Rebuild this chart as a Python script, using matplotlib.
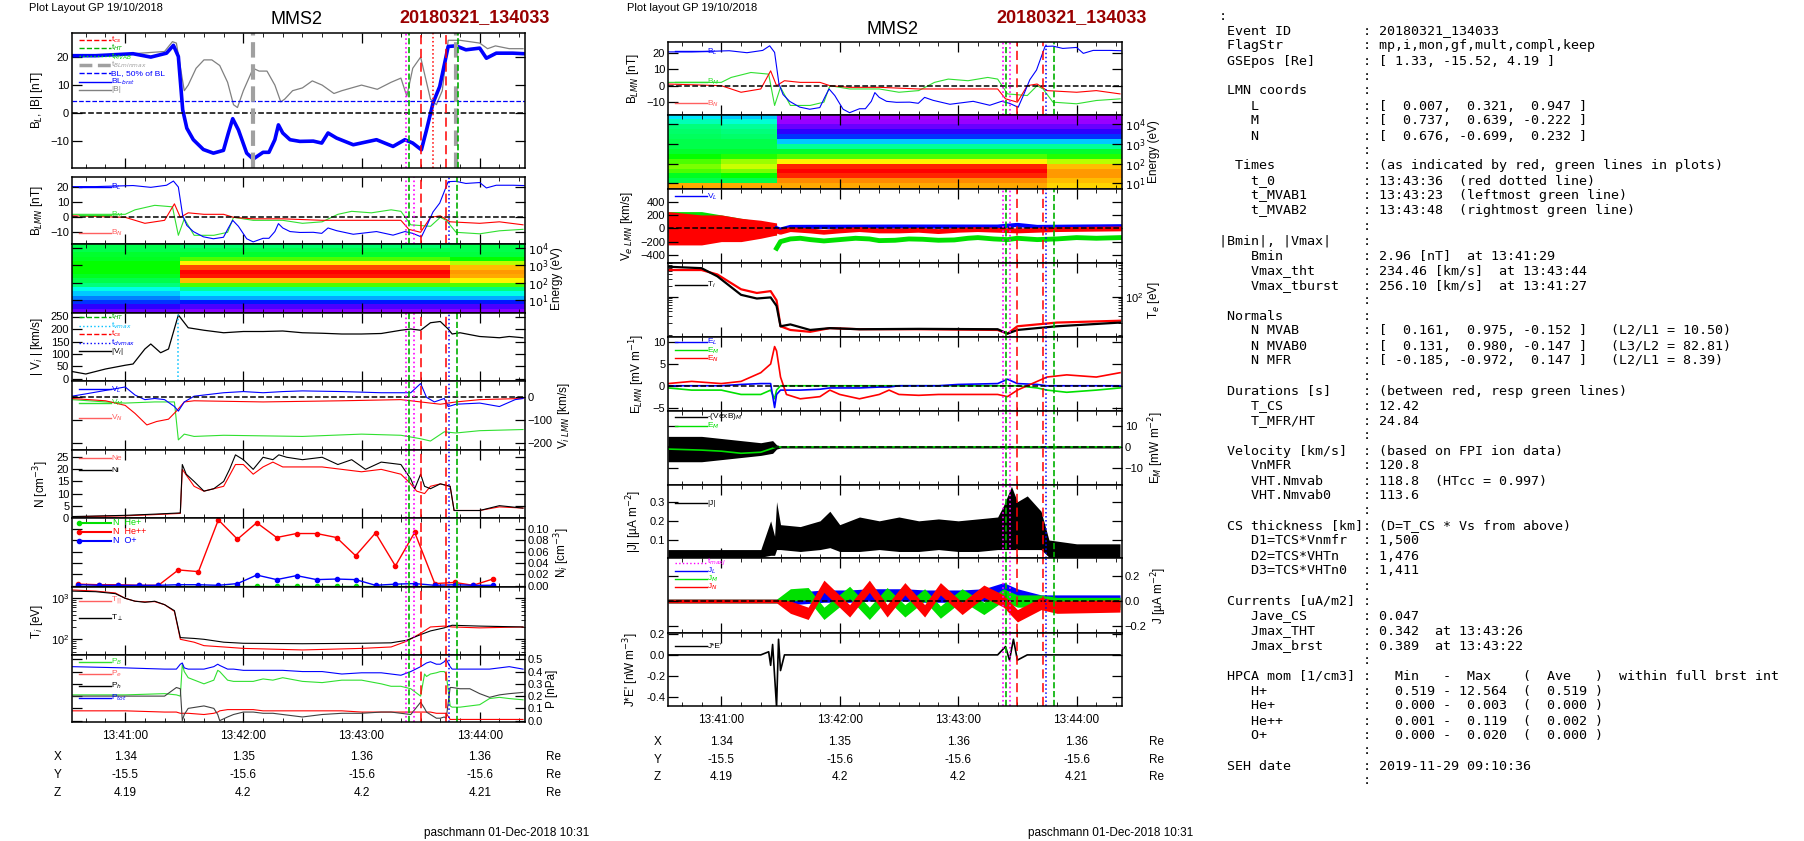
import numpy as np
import matplotlib
matplotlib.use("Agg")
import matplotlib.pyplot as plt
from matplotlib.colors import LinearSegmentedColormap
from matplotlib.transforms import blended_transform_factory

plt.rcParams["font.family"] = ["Liberation Sans", "DejaVu Sans"]
plt.rcParams["font.size"] = 8

W, H = 1804, 841
T0, T1 = 33, 263  # seconds after 13:40:00

# ---------------- data (seconds after 13:40:00) ----------------
bl_t = [33, 45, 64, 73, 81, 84.5, 87, 89.2, 91.3, 94.6, 99.7, 104.8, 109.9, 112.4, 114.6, 117.5, 121.7, 125,
        130, 133, 136, 137.8, 140, 143.7, 148.7, 155.5, 159.8, 163, 167.3, 175.8, 187.6, 196, 202, 206, 210.4,
        213, 216.3, 219.7, 224, 228, 233, 240, 243.4, 248.4, 256.8, 262.6]
bl_v = [20.5, 20.5, 21.2, 20, 21.4, 24.2, 20.2, 1.2, -5.4, -9.5, -13, -14.3, -13.3, -7.1, -2, -6, -14.3, -16.4,
        -14, -14, -9.5, -4.2, -7.1, -9.5, -10.1, -10, -10.7, -7.1, -8.9, -11.3, -9.5, -11.9, -9.5, -10.7, -13.1,
        -6, 3.6, 9.5, 23.8, 24, 22.6, 23.2, 19.6, 21.4, 21.4, 21.2]
bmag_t = [33, 60, 80, 84, 86, 90, 92, 96, 100, 104, 108, 112, 115, 117, 120, 125, 128, 132, 136, 139, 141, 145,
          150, 155, 160, 166, 170, 180, 188, 195, 200, 203, 206, 210, 212, 215, 218, 221, 224, 230, 240, 244,
          248, 255, 262]
bmag_v = [20.5, 21, 22, 25.5, 25, 8, 10, 16, 19, 19, 17, 11, 3, 2, 8, 16, 15, 15, 10, 4, 5, 8, 9, 11.5, 10, 7,
          8, 10, 8.5, 11, 12.5, 6, 16, 20, 14, 5, 3, 8, 26, 26, 25, 23, 24, 23, 23]
bm_t = [33, 60, 65, 75, 84, 87, 90, 95, 105, 112, 115, 125, 140, 150, 160, 168, 175, 185, 195, 200, 205, 215,
        220, 223, 228, 240, 250, 262]
bm_v = [2, 2, 5, 8, 7, -12, -1, -12, -12, -10, 0, -2, -2, -4, -3, 2, 4, 3, 5, 4, -5, -6, 0, -2, -10, -11, -9, -8]
bn_t = [33, 60, 70, 80, 85, 88, 92, 100, 110, 115, 125, 140, 160, 190, 200, 204, 210, 215, 220, 225, 240, 250, 262]
bn_v = [1, 0, -4, -2, 9, 0, 3, 2, 2, 0, -1, -1, -2, -2, -2, -8, -10, 0, 1, -3, -4, -3, -5]

vmag_t = [33, 40, 50, 60, 64, 70, 73, 78, 82, 87, 92, 100, 110, 120, 130, 140, 150, 160, 170, 180, 190, 200,
          205, 210, 215, 220, 224, 226, 230, 240, 250, 255, 262]
vmag_v = [30, 20, 40, 55, 60, 120, 140, 105, 120, 256, 205, 195, 185, 190, 190, 192, 185, 183, 180, 180, 182,
          195, 200, 195, 225, 230, 200, 180, 185, 170, 165, 170, 165]
vil_t = [33, 40, 50, 60, 65, 70, 75, 80, 85, 87, 90, 95, 100, 110, 120, 130, 140, 150, 170, 190, 205, 210, 213,
         217, 222, 224, 228, 240, 250, 258, 262]
vil_v = [5, 15, 30, 45, 10, -10, -5, -10, -40, -60, -20, 5, 10, 20, 25, 20, 25, 28, 25, 20, 20, 60, 0, -20, -5,
         -40, -30, -25, -40, -10, -5]
vim_t = [33, 50, 60, 75, 85, 87, 90, 95, 110, 150, 180, 200, 210, 215, 222, 228, 240, 262]
vim_v = [-10, -20, -25, -20, -20, -185, -160, -170, -165, -170, -160, -165, -180, -190, -150, -155, -145, -140]
vin_t = [33, 50, 60, 65, 71, 76, 82, 86, 90, 95, 130, 170, 200, 210, 220, 228, 240, 262]
vin_v = [-5, -15, -35, -70, -120, -105, -95, -60, -20, -15, -20, -15, -10, -20, -30, -20, -10, -5]

ni_t = [33, 60, 75, 88, 89, 91, 95, 100, 105, 110, 113, 116, 120, 125, 130, 135, 138, 142, 150, 160, 168, 175,
        182, 190, 200, 205, 207, 210, 212, 215, 220, 225, 227, 240, 250, 262]
ni_v = [0.5, 1, 1.5, 2, 22, 18, 15, 11, 12, 15, 20, 26, 24, 20, 25, 24, 26, 25, 24, 25, 22, 24, 20, 23, 22, 16,
        12, 18, 13, 12, 14, 13, 3, 3, 5, 4]
ne_t = [33, 60, 75, 88, 89, 95, 100, 110, 116, 120, 125, 130, 135, 140, 150, 160, 170, 180, 190, 200, 205, 208,
        212, 215, 220, 225, 227, 240, 250, 262]
ne_v = [0.4, 0.8, 1.3, 1.8, 20, 13, 11, 13, 22, 22, 18, 21, 23, 21, 21, 21, 20, 19, 20, 18, 14, 11, 10, 13, 14,
        13, 3, 3, 4.5, 4]

hp_t = [36.3, 46.5, 56.6, 66.8, 76.9, 87, 97.2, 107.3, 117, 126.8, 136.9, 147, 157.2, 167.3, 177, 187.1, 197.2,
        207, 217.2, 227.3, 236.6, 246.7]
hepp = [0.003, 0.002, 0.002, 0.001, 0.001, 0.028, 0.025, 0.116, 0.082, 0.111, 0.085, 0.092, 0.092, 0.085, 0.053,
        0.093, 0.035, 0.094, 0.004, 0.006, 0.001, 0.012]
oplus = [0.002, 0.001, 0.001, 0.001, 0.001, 0.002, 0.002, 0.001, 0.004, 0.019, 0.011, 0.018, 0.011, 0.012, 0.011,
         0.001, 0.003, 0.004, 0.001, 0.002, 0.001, 0.001]
heplus = [0.0005] * 22

ti_t = [33, 45, 55, 60, 65, 70, 75, 80, 85, 88, 95, 100, 110, 120, 150, 180, 195, 203, 210, 215, 222, 226, 240, 262]
tperp = [1500, 1450, 1300, 1000, 850, 800, 850, 700, 500, 110, 105, 100, 85, 80, 78, 80, 82, 95, 130, 160, 190,
         220, 210, 200]
tpar = [1600, 1500, 1350, 1000, 850, 820, 830, 700, 480, 100, 85, 70, 65, 60, 55, 60, 65, 90, 140, 200, 210,
        200, 190, 200]

p_t = [33, 60, 80, 86, 88, 89, 90, 92, 100, 105, 107, 108, 112, 115, 120, 125, 130, 135, 140, 150, 160, 170, 180,
       190, 195, 200, 205, 210, 212, 213, 215, 218, 220, 222, 223, 225, 226, 230, 235, 240, 245, 250, 255, 262]
ptot = [0.44, 0.43, 0.42, 0.42, 0.46, 0.47, 0.43, 0.42, 0.42, 0.44, 0.46, 0.45, 0.42, 0.42, 0.41, 0.41, 0.41,
        0.41, 0.41, 0.4, 0.4, 0.38, 0.39, 0.39, 0.38, 0.37, 0.4, 0.44, 0.46, 0.47, 0.48, 0.46, 0.46, 0.48, 0.5,
        0.44, 0.42, 0.42, 0.42, 0.42, 0.42, 0.43, 0.44, 0.42]
pb = [0.21, 0.21, 0.22, 0.21, 0.2, 0.46, 0.4, 0.35, 0.3, 0.33, 0.41, 0.4, 0.33, 0.32, 0.32, 0.32, 0.34, 0.33,
      0.35, 0.32, 0.31, 0.33, 0.33, 0.3, 0.28, 0.28, 0.26, 0.2, 0.38, 0.36, 0.38, 0.39, 0.4, 0.4, 0.38, 0.12,
      0.11, 0.11, 0.12, 0.13, 0.18, 0.19, 0.18, 0.17]
ph = [0.2, 0.2, 0.2, 0.27, 0.26, 0.0, 0.05, 0.1, 0.12, 0.1, 0.05, 0.0, 0.03, 0.05, 0.07, 0.07, 0.06, 0.06, 0.05,
      0.03, 0.05, 0.06, 0.06, 0.07, 0.07, 0.06, 0.05, 0.15, 0.1, 0.07, 0.05, 0.02, 0.02, 0.03, 0.02, 0.27, 0.27,
      0.26, 0.26, 0.22, 0.19, 0.21, 0.22, 0.23]
pe = [0.08, 0.08, 0.07, 0.07, 0.06, 0.06, 0.06, 0.06, 0.05, 0.06, 0.07, 0.08, 0.09, 0.09, 0.09, 0.09, 0.08, 0.08,
      0.08, 0.08, 0.08, 0.08, 0.07, 0.07, 0.07, 0.07, 0.07, 0.07, 0.07, 0.07, 0.07, 0.06, 0.06, 0.06, 0.06, 0.01,
      0.01, 0.01, 0.01, 0.01, 0.01, 0.01, 0.01, 0.01]

# spectrograms: log10 energy row centres, segment edges in time, intensity 0..1
ion_logE = [0.375, 0.625, 0.875, 1.125, 1.375, 1.625, 1.875, 2.125, 2.375, 2.625, 2.875, 3.125, 3.375, 3.625,
            3.875, 4.125]
ion_tedges = [33, 88, 225, 263]
ion_A = [0.1, 0.14, 0.2, 0.25, 0.3, 0.35, 0.42, 0.45, 0.48, 0.5, 0.5, 0.5, 0.48, 0.47, 0.45, 0.45]
ion_B = [0.08, 0.12, 0.18, 0.28, 0.33, 0.4, 0.55, 0.75, 0.97, 1.0, 0.9, 0.68, 0.55, 0.47, 0.45, 0.43]
ion_C = [0.08, 0.12, 0.18, 0.28, 0.35, 0.42, 0.55, 0.68, 0.78, 0.8, 0.75, 0.62, 0.5, 0.46, 0.45, 0.45]
ele_logE = [0.875, 1.125, 1.375, 1.625, 1.875, 2.125, 2.375, 2.625, 2.875, 3.125, 3.375, 3.625, 3.875, 4.125, 4.375]
ele_tedges = [33, 60, 88, 225, 263]
ele_A1 = [0.78, 0.45, 0.48, 0.55, 0.58, 0.55, 0.5, 0.47, 0.45, 0.45, 0.44, 0.43, 0.42, 0.38, 0.32]
ele_A2 = [0.78, 0.45, 0.5, 0.58, 0.63, 0.6, 0.52, 0.47, 0.45, 0.45, 0.43, 0.42, 0.4, 0.36, 0.3]
ele_B = [0.78, 0.82, 0.95, 1.0, 0.95, 0.68, 0.55, 0.47, 0.4, 0.3, 0.2, 0.14, 0.1, 0.07, 0.06]
ele_C = [0.72, 0.75, 0.8, 0.8, 0.75, 0.62, 0.52, 0.47, 0.4, 0.3, 0.2, 0.14, 0.1, 0.07, 0.06]

# electron velocity (centre lines + noise envelopes)
ve_pre_t = [33, 50, 60, 70, 80, 88]
ven_lo = [-250, -250, -200, -200, -150, -100]
ven_hi = [250, 200, 200, 150, 120, 80]
vem_lo = [-150, -150, -120, -100, -100, -100]
vem_hi = [250, 250, 200, 150, 100, 50]
vel_lo = [-60, -50, -40, -40, -40, -60]
vel_hi = [60, 60, 50, 50, 80, 60]
vem_t = [88, 90, 95, 100, 105, 112, 120, 128, 135, 140, 148, 155, 162, 170, 178, 185, 190, 198, 205, 210, 220,
         230, 240, 250, 262]
vem_v = [-300, -200, -160, -150, -170, -190, -170, -150, -160, -185, -180, -160, -165, -180, -175, -150, -140,
         -160, -170, -150, -170, -160, -140, -150, -140]
ven_t = [88, 90, 95, 105, 112, 120, 130, 140, 150, 160, 170, 180, 190, 200, 210, 220, 230, 262]
ven_v = [-40, -60, -20, -40, -60, -40, -20, -40, -40, -30, -50, -30, -20, -30, -40, -30, -20, -10]
vel_t = [88, 90, 95, 150, 200, 210, 220, 262]
vel_v = [0, -20, 20, 25, 25, 50, 20, 30]

te_t = [33, 50, 58, 64, 70, 78, 85, 88, 90, 95, 105, 115, 130, 160, 200, 205, 210, 230, 262]
te_blk = [2.81, 2.77, 2.55, 2.3, 2.05, 1.95, 1.98, 1.75, 1.2, 1.25, 1.1, 1.15, 1.12, 1.13, 1.12, 1.0, 1.1, 1.2, 1.3]
te_red = [2.72, 2.72, 2.6, 2.4, 2.2, 2.1, 2.15, 1.9, 1.2, 1.1, 1.05, 1.15, 1.12, 1.12, 1.1, 1.0, 1.2, 1.3, 1.35]

e_t = [33, 45, 60, 70, 80, 85, 87, 88, 90, 93, 100, 110, 115, 120, 130, 140, 145, 150, 160, 170, 180, 200, 205,
       210, 220, 225, 235, 250, 262]
en_v = [0.5, 1, 0.5, 1, 3, 5, 9, 8, 2, -2, -3, -2.5, -1, -2, -3, -2, -1, -2, -2.2, -2, -2, -2, -2.5, -1, 1, 2,
        2.5, 2, 3]
el_v = [0, 0, 0, 0.3, 0.5, 0.5, -5, -2, -1, -1, -1, -0.8, -0.5, -0.5, -0.5, -0.3, -0.3, 0, 0, 0, 0.3, 0.5, 1.5,
        0.5, 0.3, 0, 0, 0, 0]
em_v = [-0.5, -1, -1, -2, -2, -1, -3, -1, 0, 0, 0, 0, 0, 0, 0, 0, 0, 0, 0, 0, 0, 0, 0, 0, -0.5, -1, -1.5, -1,
        -0.5]

vxb_t = [33, 50, 60, 70, 80, 86, 88, 90, 262]
vxb_lo = [-7, -7, -6, -5, -4, -3, -1, -0.5, -0.5]
vxb_hi = [5, 5, 4, 3, 2, 3, 1, 0.5, 0.5]
emg_t = [33, 50, 60, 70, 80, 88, 90, 262]
emg_v = [-1, -1.5, -2, -3, -2.5, 0, 0, 0]

jm_t = [33, 80, 85, 87, 88, 90, 100, 110, 115, 120, 130, 140, 150, 160, 170, 180, 190, 200, 203, 207, 210, 215,
        222, 226, 240, 262]
jm_lo = [0.01, 0.01, 0.02, 0.02, 0.05, 0.05, 0.04, 0.05, 0.06, 0.04, 0.04, 0.05, 0.04, 0.04, 0.05, 0.04, 0.04,
         0.05, 0.05, 0.05, 0.05, 0.05, 0.05, 0.01, 0.01, 0.01]
jm_hi = [0.05, 0.05, 0.2, 0.12, 0.3, 0.18, 0.17, 0.2, 0.25, 0.18, 0.22, 0.2, 0.22, 0.2, 0.21, 0.2, 0.21, 0.22,
         0.28, 0.38, 0.3, 0.33, 0.25, 0.1, 0.08, 0.08]

jc_t = [33, 88, 95, 104, 112, 125, 135, 144, 153, 163, 171, 182, 193, 203, 210, 222, 230, 262]
jr_v = [0, 0, -0.05, -0.1, 0.12, -0.08, 0.12, -0.08, 0.1, -0.08, 0.1, -0.06, 0.08, 0.0, -0.12, -0.02, -0.05, -0.04]
jg_v = [0, 0, 0.05, 0.06, -0.1, 0.07, -0.1, 0.06, -0.08, 0.05, -0.09, 0.05, -0.06, 0.05, 0.0, 0.0, -0.02, -0.02]
jb_v = [0, 0, 0.02, 0.03, 0.04, 0.04, 0.05, 0.05, 0.05, 0.04, 0.04, 0.04, 0.05, 0.1, 0.05, 0.0, 0.0, 0.0]

je_t = [33, 80, 84, 85, 86, 87, 88, 89, 90, 92, 100, 200, 204, 206, 208, 210, 215, 262]
je_v = [0, 0, 0.03, -0.1, 0.1, -0.2, -0.5, 0.15, -0.15, 0.0, 0.0, 0.0, 0.08, -0.05, 0.15, -0.05, 0, 0]

xlabels = ["13:41:00", "13:42:00", "13:43:00", "13:44:00"]
xticks = [60, 120, 180, 240]
posX = ["1.34", "1.35", "1.36", "1.36"]
posY = ["-15.5", "-15.6", "-15.6", "-15.6"]
posZ = ["4.19", "4.2", "4.2", "4.21"]

info_rows = [
    (":", None), (" Event ID", "20180321_134033"), (" FlagStr", "mp,i,mon,gf,mult,compl,keep"),
    (" GSEpos [Re]", "[ 1.33, -15.52, 4.19 ]"), ("", ""), (" LMN coords", ""),
    ("    L", "[  0.007,  0.321,  0.947 ]"), ("    M", "[  0.737,  0.639, -0.222 ]"),
    ("    N", "[  0.676, -0.699,  0.232 ]"), ("", ""),
    ("  Times", "(as indicated by red, green lines in plots)"), ("    t_0", "13:43:36  (red dotted line)"),
    ("    t_MVAB1", "13:43:23  (leftmost green line)"), ("    t_MVAB2", "13:43:48  (rightmost green line)"),
    ("", ""), ("|Bmin|, |Vmax|", ""), ("    Bmin", "2.96 [nT]  at 13:41:29"),
    ("    Vmax_tht", "234.46 [km/s]  at 13:43:44"), ("    Vmax_tburst", "256.10 [km/s]  at 13:41:27"),
    ("", ""), (" Normals", ""),
    ("    N MVAB", "[  0.161,  0.975, -0.152 ]   (L2/L1 = 10.50)"),
    ("    N MVAB0", "[  0.131,  0.980, -0.147 ]   (L3/L2 = 82.81)"),
    ("    N MFR", "[ -0.185, -0.972,  0.147 ]   (L2/L1 = 8.39)"), ("", ""),
    (" Durations [s]", "(between red, resp green lines)"), ("    T_CS", "12.42"), ("    T_MFR/HT", "24.84"),
    ("", ""), (" Velocity [km/s]", "(based on FPI ion data)"), ("    VnMFR", "120.8"),
    ("    VHT.Nmvab", "118.8  (HTcc = 0.997)"), ("    VHT.Nmvab0", "113.6"), ("", ""),
    (" CS thickness [km]", "(D=T_CS * Vs from above)"), ("    D1=TCS*Vnmfr", "1,500"),
    ("    D2=TCS*VHTn", "1,476"), ("    D3=TCS*VHTn0", "1,411"), ("", ""), (" Currents [uA/m2]", ""),
    ("    Jave_CS", "0.047"), ("    Jmax_THT", "0.342  at 13:43:26"), ("    Jmax_brst", "0.389  at 13:43:22"),
    ("", ""), (" HPCA mom [1/cm3]", "  Min   -  Max    (  Ave   )  within full brst int"),
    ("    H+", "  0.519 - 12.564  (  0.519 )"), ("    He+", "  0.000 -  0.003  (  0.000 )"),
    ("    He++", "  0.001 -  0.119  (  0.002 )"), ("    O+", "  0.000 -  0.020  (  0.000 )"),
    ("", ""), (" SEH date", "2019-11-29 09:10:36"), ("", ""),
]

# ---------------- helpers ----------------
fig = plt.figure(figsize=(W / 100, H / 100), dpi=100)
cmap = LinearSegmentedColormap.from_list(
    "spec", ["#ff00ff", "#0000ff", "#00ffff", "#00ff00", "#ffff00", "#ff8000", "#ff0000"])


def axp(x0, y0, x1, y1):
    ax = fig.add_axes([x0 / W, 1 - y1 / H, (x1 - x0) / W, (y1 - y0) / H])
    ax.set_xlim(T0, T1)
    ax.set_xticks(xticks)
    ax.set_xticks(np.arange(40, 263, 10), minor=True)
    ax.set_xticklabels([])
    ax.tick_params(which="both", direction="in", top=True, right=True, labelsize=8, pad=2)
    ax.tick_params(which="major", length=7, width=0.9)
    ax.tick_params(which="minor", length=3)
    for s in ax.spines.values():
        s.set_linewidth(1.1)
    return ax


def right_axis(ax, label):
    ax.yaxis.tick_right()
    ax.tick_params(which="both", left=True, right=True, labelleft=False, labelright=True)
    ax.yaxis.set_label_position("right")
    ax.set_ylabel(label, fontsize=8.5, labelpad=2)


def tag(ax, y, label, color, ls="-", lw=1.0, x=0.015, fs=6):
    ax.plot([x, x + 0.07], [y, y], transform=ax.transAxes, color=color, ls=ls, lw=lw, clip_on=False)
    ax.text(x + 0.072, y, label, transform=ax.transAxes, color=color, fontsize=fs, va="center")


def events(ax, full=True):
    ax.axvline(202.5, color="#ff00ff", ls=":", lw=1.2)
    ax.axvline(204, color="#00b000", ls="--", lw=1.2)
    ax.axvline(210, color="red", ls=(0, (6, 3)), lw=1.1)
    ax.axvline(223, color="red", ls=(0, (6, 3)), lw=1.1)
    ax.axvline(228.5, color="#00b000", ls="--", lw=1.2)
    if full:
        ax.axvline(206.5, color="#ff00ff", ls=":", lw=1.2)
        ax.axvline(224.5, color="blue", ls=":", lw=1.1)


def spectro(ax, logE, tedges, cols, elim):
    z = np.array(cols).T
    step = logE[1] - logE[0]
    eedges = np.append(np.array(logE) - step / 2, logE[-1] + step / 2)
    ax.pcolormesh(tedges, eedges, z, cmap=cmap, vmin=0, vmax=1, shading="flat")
    ax.set_ylim(*elim)
    ax.set_yticks([1, 2, 3, 4])
    ax.set_yticklabels(["$10^{1}$", "$10^{2}$", "$10^{3}$", "$10^{4}$"])
    ax.yaxis.set_minor_locator(plt.NullLocator())
    right_axis(ax, "Energy (eV)")


def pos_table(ax, ys, xlab, xre):
    tr = blended_transform_factory(ax.transData, fig.transFigure)
    for name, vals, y in zip(["X", "Y", "Z"], [posX, posY, posZ], ys):
        fig.text(xlab / W, 1 - y / H, name, fontsize=8.5, va="center")
        for t, v in zip(xticks, vals):
            ax.text(t, 1 - y / H, v, transform=tr, fontsize=8.5, ha="center", va="center")
        fig.text(xre / W, 1 - y / H, "Re", fontsize=8.5, va="center")


# ---------------- left column ----------------
a1 = axp(72, 33, 525, 168)
a1.plot(bmag_t, bmag_v, color="gray", lw=0.9)
a1.plot(bl_t, bl_v, color="#4060ff", lw=0.8)
a1.plot(bl_t, bl_v, color="blue", lw=2.6)
a1.axhline(0, color="k", ls="--", lw=1.1)
a1.axhline(4.3, color="blue", ls="--", lw=0.9)
for t in [125, 228]:
    a1.axvline(t, color="#a0a0a0", ls="--", lw=3)
a1.axvline(202.5, color="#ff00ff", ls=":", lw=1.2)
a1.axvline(204, color="#00b000", ls="--", lw=1.2)
a1.axvline(210, color="red", ls=(0, (6, 3)), lw=1.1)
a1.axvline(216.5, color="red", ls=":", lw=1.1)
a1.axvline(223, color="red", ls=(0, (6, 3)), lw=1.1)
a1.axvline(229, color="#00b000", ls="--", lw=1.2)
a1.set_ylim(-19.6, 28.6)
a1.set_yticks([-10, 0, 10, 20])
a1.set_ylabel("B$_L$, |B| [nT]", fontsize=8.5)
for i, (lab, c, ls, lw) in enumerate([("t$_{cs}$", "red", "--", 1), ("t$_{HT}$", "#00b000", "--", 1),
                                      ("t$_{MVAB}$", "#00e000", ":", 1), ("t$_{BLminmax}$", "#a0a0a0", "--", 2.5),
                                      ("BL, 50% of BL", "blue", "--", 1), ("BL$_{brst}$", "blue", "-", 1),
                                      ("|B|", "gray", "-", 1)]):
    tag(a1, 0.95 - 0.062 * i, lab, c, ls, lw)

a2 = axp(72, 177, 525, 244)
a2.plot(bm_t, bm_v, color="#30e030", lw=0.8)
a2.plot(bn_t, bn_v, color="red", lw=0.8)
a2.plot(bl_t, bl_v, color="blue", lw=0.8)
a2.axhline(0, color="k", ls="--", lw=1.1)
events(a2)
a2.set_ylim(-17.8, 26.9)
a2.set_yticks([-10, 0, 10, 20])
a2.set_ylabel("B$_{LMN}$ [nT]", fontsize=8.5)
tag(a2, 0.85, "B$_L$", "blue")
tag(a2, 0.44, "B$_M$", "#30e030")
tag(a2, 0.17, "B$_N$", "#ff6060")

a3 = axp(72, 244, 525, 313)
spectro(a3, ion_logE, ion_tedges, [ion_A, ion_B, ion_C], (0.25, 4.23))

a4 = axp(72, 313, 525, 381)
a4.plot(vmag_t, vmag_v, color="k", lw=0.9)
events(a4)
a4.axvline(87, color="#00c0ff", ls=":", lw=1.1)
a4.set_ylim(-8, 264)
a4.set_yticks([0, 50, 100, 150, 200, 250])
a4.set_ylabel("| V$_i$ | [km/s]", fontsize=8.5)
for i, (lab, c, ls) in enumerate([("t$_{HT}$", "#00b000", "--"), ("t$_{vmax}$", "#00c0ff", ":"),
                                  ("t$_{cs}$", "red", "--"), ("t$_{dvmax}$", "blue", ":"),
                                  ("|V$_i$|", "k", "-")]):
    tag(a4, 0.94 - 0.125 * i, lab, c, ls)

a5 = axp(72, 381, 525, 450)
a5.plot(vim_t, vim_v, color="#30e030", lw=0.8)
a5.plot(vin_t, vin_v, color="red", lw=0.8)
a5.plot(vil_t, vil_v, color="blue", lw=0.8)
a5.axhline(0, color="k", ls="--", lw=1.1)
events(a5)
a5.set_ylim(-229, 71)
a5.set_yticks([-200, -100, 0])
right_axis(a5, "V$_{i\\ LMN}$ [km/s]")
tag(a5, 0.88, "V$_L$", "blue")
tag(a5, 0.68, "V$_M$", "#30e030")
tag(a5, 0.47, "V$_N$", "#ff6060")

a6 = axp(72, 450, 525, 518)
a6.plot(ne_t, ne_v, color="red", lw=0.8)
a6.plot(ni_t, ni_v, color="k", lw=0.8)
events(a6)
a6.set_ylim(-0.1, 28)
a6.set_yticks([0, 5, 10, 15, 20, 25])
a6.set_ylabel("N [cm$^{-3}$]", fontsize=8.5)
tag(a6, 0.88, "Ne", "#ff6060")
tag(a6, 0.7, "Ni", "k")

a7 = axp(72, 518, 525, 587)
a7.plot(hp_t, heplus, color="#00e000", marker="o", ms=3, lw=1)
a7.plot(hp_t, hepp, color="red", marker="o", ms=3, lw=1)
a7.plot(hp_t, oplus, color="blue", marker="o", ms=3, lw=1)
events(a7)
a7.set_ylim(-0.002, 0.1193)
a7.set_yticks([0, 0.02, 0.04, 0.06, 0.08, 0.10])
a7.set_yticklabels(["0.00", "0.02", "0.04", "0.06", "0.08", "0.10"])
right_axis(a7, "N$_i$ [cm$^{-3}$]")
for y, lab, c in [(0.93, "N  He+", "#00e000"), (0.8, "N  He++", "red"), (0.67, "N  O+", "blue")]:
    a7.plot([0.015, 0.085], [y, y], transform=a7.transAxes, color=c, marker="o", ms=3, markevery=[0])
    a7.text(0.09, y, lab, transform=a7.transAxes, color=c, fontsize=6.5, va="center")

a8 = axp(72, 587, 525, 655)
a8.plot(ti_t, tpar, color="red", lw=0.8)
a8.plot(ti_t, tperp, color="k", lw=0.8)
events(a8)
a8.set_yscale("log")
a8.set_ylim(10 ** 1.617, 10 ** 3.276)
a8.set_ylabel("T$_i$ [eV]", fontsize=8.5)
a8.tick_params(which="both", direction="in", right=True)
tag(a8, 0.8, "T$_{||}$", "#ff6060")
tag(a8, 0.55, "T$_\\perp$", "k")

a9 = axp(72, 655, 525, 722)
a9.plot(p_t, pb, color="#30e030", lw=0.8)
a9.plot(p_t, pe, color="red", lw=0.8)
a9.plot(p_t, ph, color="#404040", lw=0.8)
a9.plot(p_t, ptot, color="blue", lw=0.8)
events(a9)
a9.set_ylim(-0.011, 0.535)
a9.set_yticks([0, 0.1, 0.2, 0.3, 0.4, 0.5])
a9.set_yticklabels(["0.0", "0.1", "0.2", "0.3", "0.4", "0.5"])
right_axis(a9, "P [nPa]")
tag(a9, 0.9, "P$_B$", "#30e030")
tag(a9, 0.72, "P$_e$", "#ff6060")
tag(a9, 0.54, "P$_h$", "k")
tag(a9, 0.36, "P$_{tot}$", "blue")
a9.set_xticklabels(xlabels)
a9.tick_params(axis="x", labelsize=8.5, pad=6)
pos_table(a9, [757, 775, 793], 54, 546)

# ---------------- middle column ----------------
m1 = axp(668, 42, 1122, 115)
m1.plot(bm_t, bm_v, color="#30e030", lw=0.8)
m1.plot(bn_t, bn_v, color="red", lw=0.8)
m1.plot(bl_t, bl_v, color="blue", lw=0.8)
m1.axhline(0, color="k", ls="--", lw=1.1)
events(m1)
m1.set_ylim(-17.8, 26.5)
m1.set_yticks([-10, 0, 10, 20])
m1.set_ylabel("B$_{LMN}$ [nT]", fontsize=8.5)
tag(m1, 0.87, "B$_L$", "blue")
tag(m1, 0.45, "B$_M$", "#30e030")
tag(m1, 0.16, "B$_N$", "#ff6060")

m2 = axp(668, 115, 1122, 189)
spectro(m2, ele_logE, ele_tedges, [ele_A1, ele_A2, ele_B, ele_C], (0.71, 4.47))

m3 = axp(668, 189, 1122, 263)
m3.fill_between(ve_pre_t, vem_lo, vem_hi, color="#00e000", lw=0)
m3.fill_between(ve_pre_t, vel_lo, vel_hi, color="blue", lw=0)
m3.fill_between(ve_pre_t, ven_lo, ven_hi, color="red", lw=0)
m3.plot(vem_t, vem_v, color="#00e000", lw=3.5)
m3.plot(vel_t, vel_v, color="blue", lw=3)
m3.plot(ven_t, ven_v, color="red", lw=3.5)
m3.axhline(0, color="k", ls="--", lw=1.1)
events(m3)
m3.set_ylim(-521, 589)
m3.set_yticks([-400, -200, 0, 200, 400])
m3.set_ylabel("V$_{e\\ LMN}$ [km/s]", fontsize=8.5)
tag(m3, 0.9, "V$_L$", "blue")

m4 = axp(668, 263, 1122, 337)
m4.plot(te_t, [10 ** v for v in te_red], color="red", lw=1.6)
m4.plot(te_t, [10 ** v for v in te_blk], color="k", lw=1.6)
events(m4)
m4.set_yscale("log")
m4.set_ylim(10 ** 0.91, 10 ** 2.91)
m4.yaxis.set_minor_formatter(plt.NullFormatter())
right_axis(m4, "T$_e$ [eV]")
m4.set_yticks([100])
tag(m4, 0.7, "T$_i$", "k")

m5 = axp(668, 337, 1122, 411)
m5.plot(e_t, em_v, color="#00e000", lw=1.2)
m5.plot(e_t, el_v, color="blue", lw=1.2)
m5.plot(e_t, en_v, color="red", lw=1.2)
m5.axhline(0, color="k", ls="--", lw=1.1)
events(m5)
m5.set_ylim(-5.8, 11.2)
m5.set_yticks([-5, 0, 5, 10])
m5.set_ylabel("E$_{LMN}$ [mV m$^{-1}$]", fontsize=8.5)
tag(m5, 0.93, "E$_L$", "blue")
tag(m5, 0.82, "E$_M$", "#00e000")
tag(m5, 0.71, "E$_N$", "red")

m6 = axp(668, 411, 1122, 485)
m6.fill_between(vxb_t, vxb_lo, vxb_hi, color="k", lw=0)
m6.plot(emg_t, emg_v, color="#00e000", lw=1.2)
m6.axhline(0, color="k", ls="--", lw=1.1)
events(m6)
m6.set_ylim(-18, 17)
m6.set_yticks([-10, 0, 10])
right_axis(m6, "E$_M$ [mW m$^{-2}$]")
tag(m6, 0.92, "-(VexB)$_M$", "k")
tag(m6, 0.8, "E$_M$", "#00e000")

m7 = axp(668, 485, 1122, 558)
m7.fill_between(jm_t, jm_lo, jm_hi, color="k", lw=0)
events(m7)
m7.set_ylim(0.006, 0.387)
m7.set_yticks([0.1, 0.2, 0.3])
m7.set_ylabel("|J| [µA m$^{-2}$]", fontsize=8.5)
tag(m7, 0.75, "|J|", "k")

m8 = axp(668, 558, 1122, 633)
for jv, c in [(jb_v, "blue"), (jg_v, "#00e000"), (jr_v, "red")]:
    m8.fill_between(jc_t, [v - 0.05 if t > 88 else v - 0.015 for t, v in zip(jc_t, jv)],
                    [v + 0.05 if t > 88 else v + 0.015 for t, v in zip(jc_t, jv)], color=c, lw=0)
m8.axhline(0, color="k", ls="--", lw=1.1)
events(m8)
m8.set_ylim(-0.26, 0.35)
m8.set_yticks([-0.2, 0.0, 0.2])
right_axis(m8, "J [µA m$^{-2}$]")
for i, (lab, c, ls) in enumerate([("t$_{maxJ}$", "#ff00ff", ":"), ("J$_L$", "blue", "-"),
                                  ("J$_M$", "#00e000", "-"), ("J$_N$", "red", "-")]):
    tag(m8, 0.94 - 0.11 * i, lab, c, ls)

m9 = axp(668, 633, 1122, 706)
m9.plot(je_t, je_v, color="k", lw=1.2)
events(m9)
m9.set_ylim(-0.49, 0.21)
m9.set_yticks([-0.4, -0.2, 0.0, 0.2])
m9.set_yticklabels(["-0.4", "-0.2", "0.0", "0.2"])
m9.set_ylabel("J*E' [nW m$^{-3}$]", fontsize=8.5)
tag(m9, 0.82, "J*E'", "k")
m9.set_xticklabels(xlabels)
m9.tick_params(axis="x", labelsize=8.5, pad=6)
pos_table(m9, [742, 760, 777], 654, 1149)

# ---------------- titles / footers ----------------
fig.text(29 / W, 1 - 8 / H, "Plot Layout GP 19/10/2018", fontsize=8, va="center")
fig.text(297 / W, 1 - 20 / H, "MMS2", fontsize=13, ha="center", va="center")
fig.text(475 / W, 1 - 18 / H, "20180321_134033", fontsize=13, ha="center", va="center",
         color="#990000", weight="bold")
fig.text(627 / W, 1 - 8 / H, "Plot layout GP 19/10/2018", fontsize=8, va="center")
fig.text(893 / W, 1 - 29 / H, "MMS2", fontsize=13, ha="center", va="center")
fig.text(1072 / W, 1 - 18 / H, "20180321_134033", fontsize=13, ha="center", va="center",
         color="#990000", weight="bold")
fig.text(507 / W, 1 - 833 / H, "paschmann 01-Dec-2018 10:31", fontsize=8.5, ha="center", va="center")
fig.text(1111 / W, 1 - 833 / H, "paschmann 01-Dec-2018 10:31", fontsize=8.5, ha="center", va="center")

# ---------------- info text ----------------
for i, (lab, val) in enumerate(info_rows):
    line = lab if val is None else f"{lab:<18}: {val}"
    fig.text(1219 / W, 1 - (16 + 15 * i) / H, line, fontsize=9.6, family="DejaVu Sans Mono", va="center")

fig.savefig("out.png", dpi=100)
